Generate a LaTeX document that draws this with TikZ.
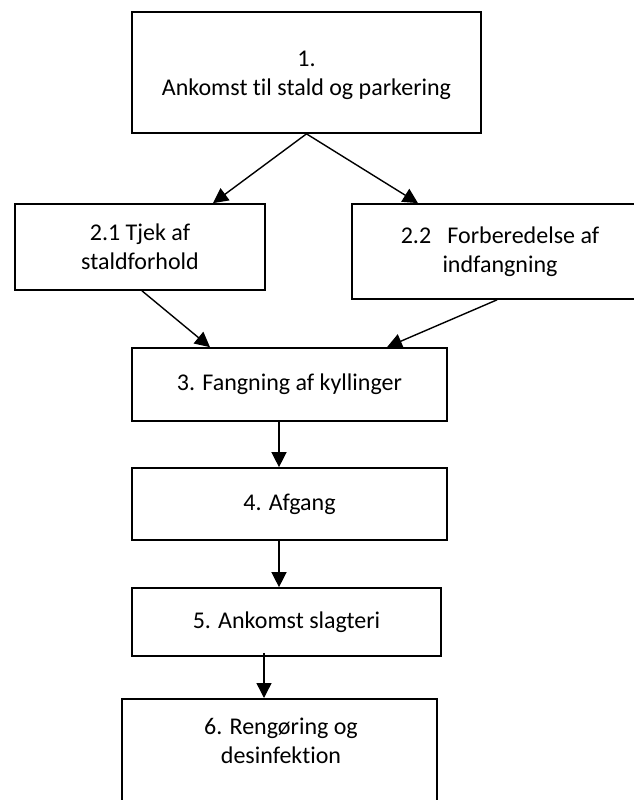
\documentclass[tikz,border=0pt]{standalone}
\usepackage{fontspec}
\setmainfont[Ligatures=NoCommon]{Carlito}
\usetikzlibrary{arrows.meta}
\begin{document}
\begin{tikzpicture}[x=1pt,y=-1pt,
  box/.style={draw=black, line width=1.7pt, fill=white, inner sep=0pt, align=center, font=\fontsize{24}{29}\selectfont},
  txt/.style={inner sep=0pt, align=center, font=\fontsize{24}{29}\selectfont},
  arr/.style={line width=1.4pt, -{Triangle[length=15pt,width=15pt]}},
]
\useasboundingbox (0,0) rectangle (634,800);
\clip (0,0) rectangle (634,800);
\node[box, minimum width=349pt, minimum height=121pt] (n1) at (306.5,72.5) {};
\node[txt] (n1t) at (306.5,75.5) {1.\\Ankomst til stald og parkering};
\node[box, minimum width=250pt, minimum height=86pt] (n21) at (140,247) {2.1 Tjek af\\staldforhold};
\node[box, minimum width=296pt, minimum height=95pt] (n22) at (500,251.5) {2.2\ \ \ Forberedelse af\\indfangning};
\node[box, minimum width=315pt, minimum height=73pt] (n3) at (289.5,384.5) {3. Fangning af kyllinger};
\node[box, minimum width=315pt, minimum height=72pt] (n4) at (289.5,504) {4. Afgang};
\node[box, minimum width=309pt, minimum height=68pt] (n5) at (286.5,622) {5. Ankomst slagteri};
\node[box, minimum width=315pt, minimum height=130pt, anchor=north] (n6) at (279.5,698) {};
\node[txt] (n6t) at (281,741) {6. Rengøring og\\desinfektion};
\draw[arr] (n1.south) -- ([xshift=73pt]n21.north);
\draw[arr] (n1.south) -- ([xshift=-82pt]n22.north);
\draw[arr] ([xshift=2pt]n21.south) -- ([xshift=-79.5pt]n3.north);
\draw[arr] ([xshift=-3pt]n22.south) -- ([xshift=97.5pt]n3.north);
\draw[arr] ([xshift=-10.5pt]n3.south) -- ([xshift=-10.5pt]n4.north);
\draw[arr] ([xshift=-10.5pt]n4.south) -- ([xshift=-7.5pt]n5.north);
\draw[arr] ([xshift=-22.5pt,yshift=4pt]n5.south) -- ([xshift=-15.5pt]n6.north);
\end{tikzpicture}
\end{document}
